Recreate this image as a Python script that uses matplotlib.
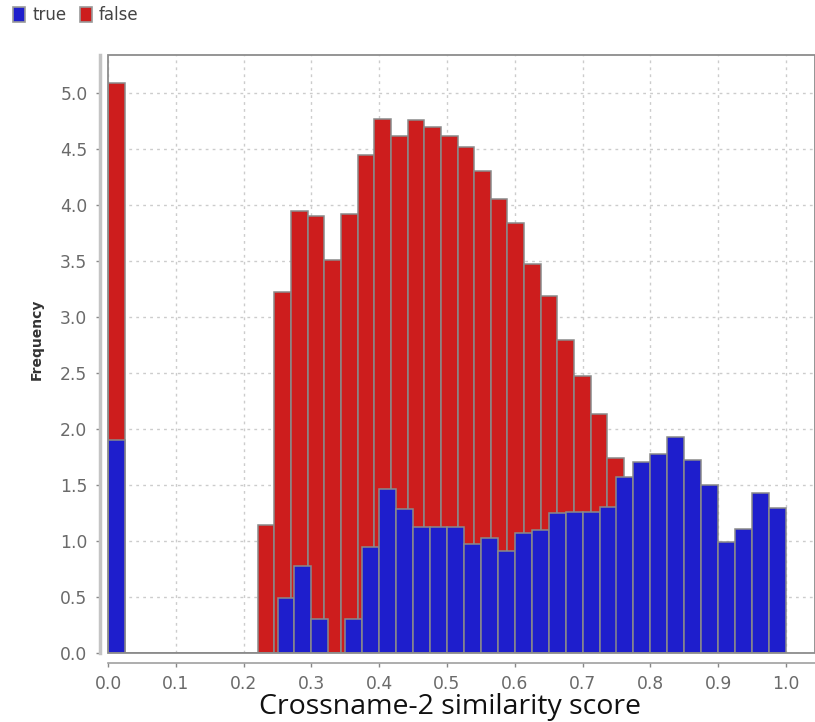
import numpy as np
import matplotlib
matplotlib.use("Agg")
import matplotlib.pyplot as plt
from matplotlib.patches import Patch, Rectangle

# ---- data ----
false_freq = [5.09, 0, 0, 0, 0, 0, 0, 0, 0, 1.15,
              3.23, 3.95, 3.90, 3.51, 3.92, 4.45, 4.77, 4.62, 4.76, 4.70,
              4.62, 4.52, 4.31, 4.06, 3.84, 3.48, 3.19, 2.80, 2.48, 2.14,
              1.74, 0, 0, 0, 0, 0, 0, 0, 0, 0]
true_freq = [1.90, 0, 0, 0, 0, 0, 0, 0, 0, 0,
             0.49, 0.78, 0.31, 0, 0.31, 0.95, 1.47, 1.29, 1.13, 1.13,
             1.13, 0.98, 1.03, 0.91, 1.07, 1.10, 1.25, 1.26, 1.26, 1.31,
             1.57, 1.71, 1.78, 1.93, 1.73, 1.50, 0.99, 1.11, 1.43, 1.30]
false_range = (0.0, 0.982)
true_range = (0.0, 1.0)
x_ticks = [0.0, 0.1, 0.2, 0.3, 0.4, 0.5, 0.6, 0.7, 0.8, 0.9, 1.0]
y_ticks = [0.0, 0.5, 1.0, 1.5, 2.0, 2.5, 3.0, 3.5, 4.0, 4.5, 5.0]
series_names = ["true", "false"]

RED = "#cd1d1d"
BLUE = "#1e1ecc"
EDGE = "#8a8a8a"

W, H = 815, 722
fig = plt.figure(figsize=(W / 100, H / 100), dpi=100)
ax = fig.add_axes([108 / W, (H - 653.3) / H, 707 / W, (653.3 - 55) / H])

nf = len(false_freq)
wf = (false_range[1] - false_range[0]) / nf
xf = false_range[0] + np.arange(nf) * wf
nt = len(true_freq)
wt = (true_range[1] - true_range[0]) / nt
xt = true_range[0] + np.arange(nt) * wt

ax.bar(xf, false_freq, width=wf, align="edge", color=RED, edgecolor=EDGE,
       linewidth=1.1, zorder=2)
ax.bar(xt, true_freq, width=wt, align="edge", color=BLUE, edgecolor=EDGE,
       linewidth=1.1, zorder=3)

ax.set_xlim(0, 707 / 678)
ax.set_ylim(0, (653.3 - 55) / 112.0)
ax.set_xticks(x_ticks)
ax.set_yticks(y_ticks)
ax.set_xticklabels([f"{v:.1f}" for v in x_ticks])
ax.set_yticklabels([f"{v:.1f}" for v in y_ticks])

ax.grid(True, color="#cccccc", linestyle=(0, (2, 3)), linewidth=1.0, zorder=0)
ax.set_axisbelow(True)

# plot-area border
for s in ("top", "right"):
    ax.spines[s].set_visible(False)
ax.add_patch(Rectangle((0, 0), 1, 1, transform=ax.transAxes, fill=False,
                       edgecolor="#8c8c8c", linewidth=1.3, zorder=5,
                       clip_on=False))

# offset axis lines
ax.spines["left"].set_position(("outward", 5.8))
ax.spines["left"].set_color("#c4c4c4")
ax.spines["left"].set_linewidth(2.5)
ax.spines["bottom"].set_position(("outward", 6.8))
ax.spines["bottom"].set_color("#a0a0a0")
ax.spines["bottom"].set_linewidth(1.2)

ax.tick_params(axis="both", direction="out", length=3, width=1,
               color="#888888", labelcolor="#6a6a6a", labelsize=12.3)
ax.tick_params(axis="y", pad=6)
ax.tick_params(axis="x", pad=6)

ax.set_ylabel("Frequency", fontsize=10, fontweight="bold", color="#333333",
              va="center")
ax.yaxis.set_label_coords((37 - 108) / 707, (653.3 - 339) / 598.3)
fig.text(450 / W, 1 - 714 / H, "Crossname-2 similarity score",
         fontsize=20.5, family=["Open Sans", "DejaVu Sans"], color="#111111",
         ha="center", va="baseline")

handles = [Patch(facecolor=BLUE, edgecolor="#9a9a9a", linewidth=1.2),
           Patch(facecolor=RED, edgecolor="#9a9a9a", linewidth=1.2)]
fig.legend(handles, series_names, loc="upper left",
           bbox_to_anchor=(-0.002, 1.012), ncol=2, frameon=False,
           handlelength=0.72, handleheight=1.05, handletextpad=0.4,
           columnspacing=0.85, prop={"size": 12},
           labelcolor="#444444")

fig.savefig("out.png", dpi=100)
